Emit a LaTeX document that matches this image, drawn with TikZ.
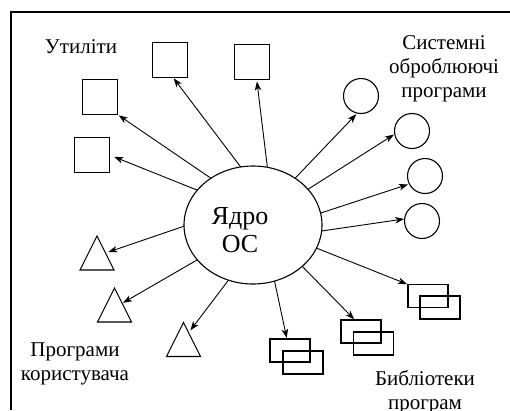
\documentclass[tikz,border=0pt]{standalone}
\usepackage{fontspec}
\setmainfont{Liberation Serif}
\usetikzlibrary{arrows.meta,calc,shapes.geometric}
\begin{document}
\begin{tikzpicture}[x=1pt,y=-1pt,
  box/.style={draw,line width=1.1pt,minimum size=35pt,inner sep=0pt,outer sep=0pt},
  circ/.style={draw,circle,line width=1.1pt,minimum size=35pt,inner sep=0pt,outer sep=0pt},
  lib/.style={draw,line width=1.1pt,minimum width=40pt,minimum height=23pt,inner sep=0pt,outer sep=0pt},
  tri/.style={minimum size=34pt,inner sep=0pt,outer sep=0pt},
  trishape/.style={line width=1.1pt,line join=miter},
  arr/.style={-{Stealth[length=9pt,width=6.5pt,inset=2.5pt]},line width=0.9pt},
  lbl/.style={font=\fontsize{21}{24}\selectfont,align=center,inner sep=0pt,anchor=north}]
\useasboundingbox (0,0) rectangle (510,410);
\draw[line width=1.4pt] (11,410) -- (11,12) -- (510,12);

% core
\node[draw,ellipse,minimum width=138pt,minimum height=118pt,inner sep=0pt,outer sep=0pt,line width=1.1pt] (core) at (253,225) {};
\node[font=\fontsize{26}{28.5}\selectfont,align=center,inner sep=0pt,anchor=north] (coretext) at (240,207) {Ядро\\ОС};

% squares
\node[box] (sq1) at (100,97) {};
\node[box] (sq2) at (92,155) {};
\node[box] (sq3) at (170,60) {};
\node[box] (sq4) at (252,62) {};

% circles
\node[circ] (c1) at (361,96) {};
\node[circ] (c2) at (412,131) {};
\node[circ] (c3) at (425,176) {};
\node[circ] (c4) at (422,221) {};

% libraries
\node[lib] (r1a) at (428,296) {};
\node[lib] (r1b) at (440,307.5) {};
\node[lib] (r2a) at (361,331.5) {};
\node[lib] (r2b) at (373.5,343.5) {};
\node[lib] (r3a) at (290,350.5) {};
\node[lib] (r3b) at (303,362.5) {};

% triangles
\node[tri] (t1) at (97,253) {};
\node[tri] (t2) at (114.5,305) {};
\node[tri] (t3) at (183.5,339.5) {};
\draw[trishape] (t1.south west) -- (t1.north) -- (t1.south east) -- cycle;
\draw[trishape] (t2.south west) -- (t2.north) -- (t2.south east) -- cycle;
\draw[trishape] (t3.south west) -- (t3.north) -- (t3.south east) -- cycle;
\coordinate (t1e) at ($(t1.north)!0.5!(t1.south east)$);
\coordinate (t2e) at ($(t2.north)!0.45!(t2.south east)$);
\coordinate (t3e) at ($(t3.north)!0.3!(t3.south east)$);

% arrows
\draw[arr,shorten >=1.5pt] (core.132.5) -- (sq1.south east);
\draw[arr,shorten >=5pt] (core.148) -- (sq2.east);
\draw[arr,shorten >=1pt] (core.102.6) -- (sq3.-80);
\draw[arr,shorten >=2pt] (core.76.4) -- (sq4.-75);
\draw[arr,shorten >=1.5pt] (core.48.8) -- (c1.258);
\draw[arr,shorten >=1pt] (core.33.9) -- (c2.190);
\draw[arr,shorten >=1.5pt] (core.10.7) -- (c3.207);
\draw[arr,shorten >=0.5pt] (core.-5.8) -- (c4.173);
\draw[arr,shorten >=1pt] (core.-20.6) -- (r1a.north west);
\draw[arr,shorten >=1pt] (core.-40) -- (r2a.118);
\draw[arr,shorten >=1pt] (core.-69.8) -- (r3a.105);
\draw[arr,shorten >=3pt] (core.181.6) -- (t1e);
\draw[arr,shorten >=1pt] (core.212.5) -- (t2e);
\draw[arr,shorten >=3pt] (core.246.8) -- (t3e);

% labels
\node[lbl] (lutil) at (81,39) {Утиліти};
\node[lbl] (lsys) at (444,35) {Системні\\оброблюючі\\програми};
\node[lbl] (luser) at (75,343) {Програми\\користувача};
\node[lbl] (llib) at (425,370) {Библіотеки\\програм};
\end{tikzpicture}
\end{document}
